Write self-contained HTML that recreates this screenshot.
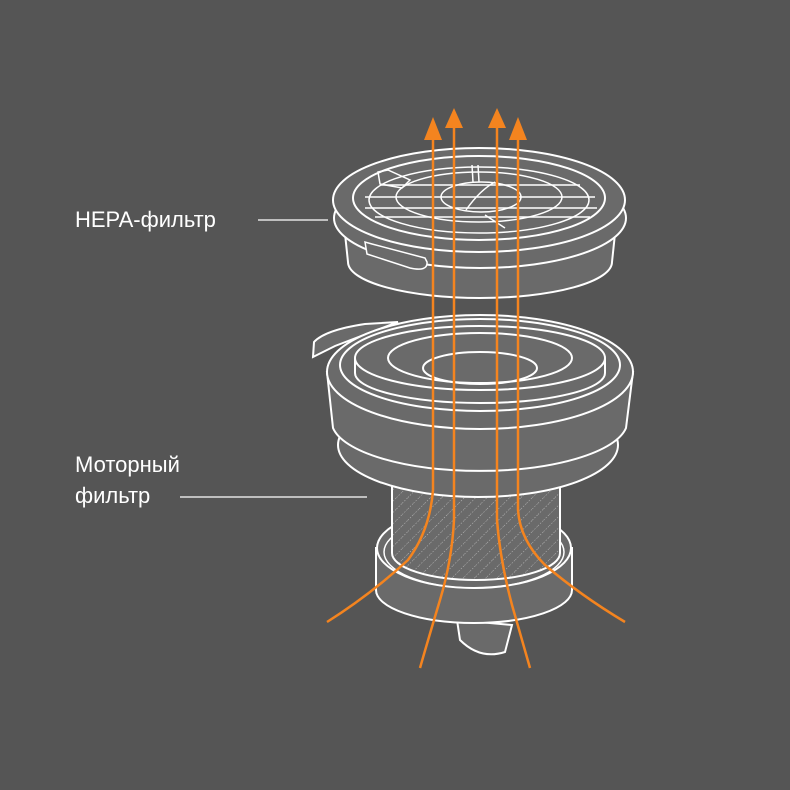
<!DOCTYPE html>
<html><head><meta charset="utf-8"><style>
html,body{margin:0;padding:0;background:#555555;}
svg{display:block}
text{font-family:"Liberation Sans",sans-serif;fill:#fff;font-size:22px}
</style></head><body>
<svg width="790" height="790" viewBox="0 0 790 790" xmlns="http://www.w3.org/2000/svg">
<defs>
<pattern id="h" width="8" height="8" patternUnits="userSpaceOnUse" patternTransform="rotate(45)">
<rect width="8" height="8" fill="#6a6a6a"/>
<line x1="0" y1="0" x2="0" y2="8" stroke="#bbb" stroke-width="1" stroke-dasharray="1.5 1.5"/>
</pattern>
</defs>
<rect width="790" height="790" fill="#555555"/>
<g stroke="#fff" stroke-width="2" fill="#6a6a6a">
<!-- HEPA filter -->
<path d="M343 215 L348 262 A132 36 0 0 0 612 262 L617 215 Z"/>
<ellipse cx="480" cy="218" rx="146" ry="50"/>
<ellipse cx="479" cy="200" rx="146" ry="52"/>
<ellipse cx="479" cy="198" rx="126" ry="42" fill="none"/>
<ellipse cx="479" cy="200" rx="110" ry="33" fill="none" stroke-width="1.5"/>
<ellipse cx="479" cy="197" rx="83" ry="25" fill="none" stroke-width="1.5"/>
<ellipse cx="481" cy="197" rx="40" ry="15" fill="none" stroke-width="1.5"/>
<g stroke-width="1.5" fill="none">
<line x1="380" y1="185" x2="580" y2="185"/>
<line x1="365" y1="197" x2="595" y2="197"/>
<line x1="365" y1="208" x2="597" y2="208"/>
<line x1="375" y1="217" x2="590" y2="217"/>
<path d="M378 172 L388 170 L410 180 L402 188 L380 184 Z"/>
<line x1="472" y1="165" x2="473" y2="182"/>
<line x1="478" y1="165" x2="479" y2="182"/>
<path d="M466 210 Q480 190 495 182"/>
<line x1="485" y1="215" x2="505" y2="228"/>
</g>
<path d="M365 242 L367 254 L410 268 Q428 272 427 262 L425 258 L372 244 Z" stroke-width="1.5"/>
<!-- Motor filter base -->
<path d="M457 620 L460 640 Q480 660 505 652 L512 625 Z"/>
<path d="M376 548 L376 590 A98 33 0 0 0 572 590 L572 548 Z"/>
<ellipse cx="474" cy="548" rx="97" ry="40"/>
<ellipse cx="474" cy="552" rx="90" ry="36" fill="none" stroke-width="1.5"/>
<path d="M392 480 L392 553 A84 27 0 0 0 560 553 L560 480 Z" fill="url(#h)"/>
<!-- flange & body -->
<ellipse cx="478" cy="445" rx="140" ry="52"/>
<path d="M327 372 L333 428 A148 50 0 0 0 626 428 L633 372 Z"/>
<path d="M313 357 L314 342 Q325 330 365 324 L398 322 L335 346 Z"/>
<ellipse cx="480" cy="372" rx="153" ry="57"/>
<ellipse cx="480" cy="365" rx="140" ry="46" fill="none"/>
<path d="M355 358 L355 373 A125 30 0 0 0 605 373 L605 358" fill="none"/>
<ellipse cx="480" cy="358" rx="125" ry="32"/>
<ellipse cx="480" cy="358" rx="92" ry="25" fill="none"/>
<ellipse cx="480" cy="368" rx="57" ry="16" fill="none"/>
</g>
<!-- arrows -->
<g stroke="#f4841f" stroke-width="2.5" fill="none">
<path d="M433 135 L433 490 Q430 530 408 560 Q370 595 327 622"/>
<path d="M454 125 L454 520 Q452 560 440 600 Q428 640 420 668"/>
<path d="M497 125 L497 520 Q500 560 512 605 Q522 640 530 668"/>
<path d="M518 135 L518 510 Q520 540 545 565 Q580 595 625 622"/>
</g>
<g fill="#f4841f">
<polygon points="424,140 433,117 442,140"/>
<polygon points="445,128 454,108 463,128"/>
<polygon points="488,128 497,108 506,128"/>
<polygon points="509,140 518,117 527,140"/>
</g>
<!-- labels -->
<text x="75" y="227">HEPA-фильтр</text>
<line x1="258" y1="220" x2="328" y2="220" stroke="#fff" stroke-width="1.2"/>
<text x="75" y="472">Моторный</text>
<text x="75" y="503">фильтр</text>
<line x1="180" y1="497" x2="367" y2="497" stroke="#fff" stroke-width="1.2"/>
</svg>
</body></html>
